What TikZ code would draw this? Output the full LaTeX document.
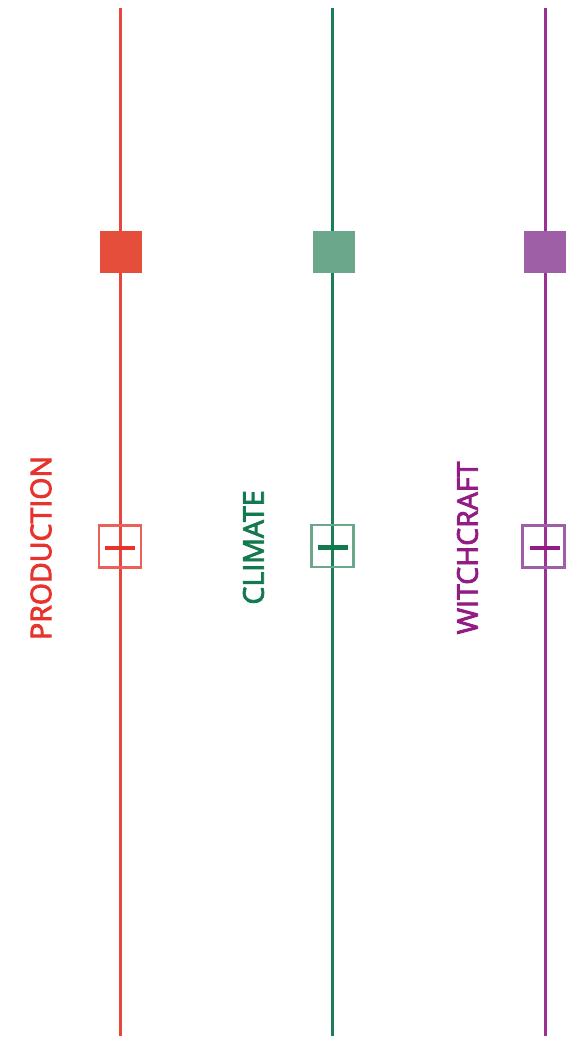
\documentclass[tikz,border=0pt]{standalone}
\usepackage{fontspec}
\setsansfont{Open Sans}
\newfontfamily\lblfont[RawFeature={embolden=3}]{Open Sans}
\usetikzlibrary{positioning}
\definecolor{prodline}{HTML}{E8453C}
\definecolor{prodfill}{HTML}{E44E3B}
\definecolor{prodtext}{HTML}{E8322C}
\definecolor{climline}{HTML}{1A7F57}
\definecolor{climfill}{HTML}{6BA78A}
\definecolor{climtext}{HTML}{127A4E}
\definecolor{witcline}{HTML}{9B2F93}
\definecolor{witcfill}{HTML}{9E5FA7}
\definecolor{witctext}{HTML}{921C83}

\begin{document}
\begin{tikzpicture}[x=1pt, y=1pt,
  axis/.style = {line width=3pt},
  full/.style = {draw=none, minimum size=42pt, inner sep=0pt},
  open/.style = {draw, line width=2.4pt, minimum size=42pt, inner sep=0pt},
  bar/.style = {line width=4.6pt},
  lbl/.style = {rotate=90, inner sep=0pt, font=\lblfont\fontsize{28.5}{30}\selectfont}]
\useasboundingbox (0,0) rectangle (579,-1038);
\coordinate (ptop) at (120,-8);   \coordinate (pbot) at (120,-1036);
\coordinate (ctop) at (332.7,-8); \coordinate (cbot) at (332.7,-1036);
\coordinate (wtop) at (545.3,-8); \coordinate (wbot) at (545.3,-1036);
\draw [axis, prodline](ptop) -- (pbot);
\draw [axis, climline](ctop) -- (cbot);
\draw [axis, witcline](wtop) -- (wbot);
\node[full, fill=prodfill](pfull) at (120.5,-252){};
\node[full, fill=climfill](cfull) at (334,-252){};
\node[full, fill=witcfill](wfull) at (545,-252){};
\node[open, draw=prodline!85!white](popen) at (120,-546.5){};
\node[open, draw=climfill](copen) at (332.5,-546){};
\node[open, draw=witcfill](wopen) at (543.5,-546.5){};
\draw [bar, prodtext]([xshift=-15pt, yshift=-1.5pt]popen.center) -- ([xshift=15pt, yshift=-1.5pt]popen.center);
\draw [bar, climtext]([xshift=-15pt, yshift=-1.5pt]copen.center) -- ([xshift=15pt, yshift=-1.5pt]copen.center);
\draw [bar, witctext]([xshift=-13.5pt, yshift=-1.5pt]wopen.center) -- ([xshift=16.5pt, yshift=-1.5pt]wopen.center);
\node[lbl, text=prodtext](plabel) at (41,-548){PRODUCTION};
\node[lbl, text=climtext](clabel) at (253.5,-547.5){CLIMATE};
\node[lbl, text=witctext](wlabel) at (467.5,-548){WITCHCRAFT};
\end{tikzpicture}
\end{document}
